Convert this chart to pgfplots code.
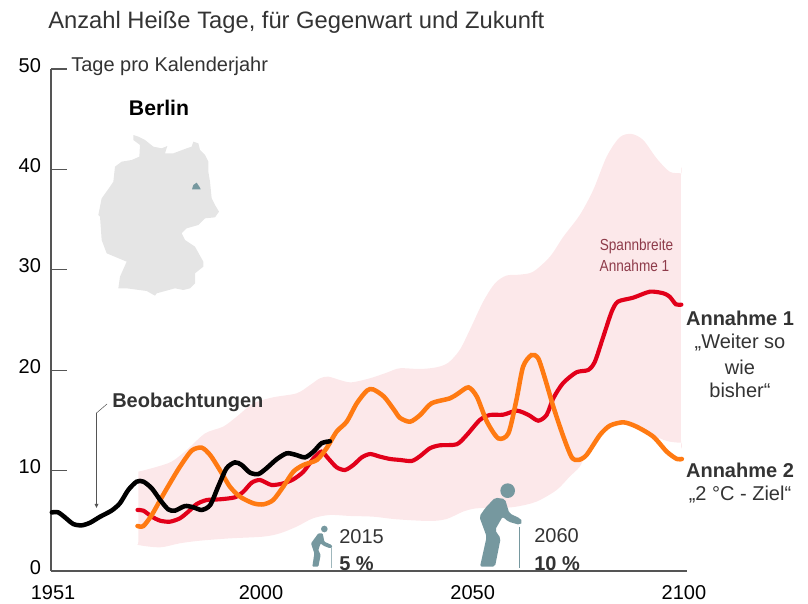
\documentclass[border=0pt]{standalone}
\usepackage{pgfplots}
\usepackage{pgfplotstable}
\usepackage{fontspec}
\setmainfont{Liberation Sans}
\pgfplotsset{compat=1.18}
\definecolor{axgray}{HTML}{555555}
\definecolor{txt}{HTML}{333333}
\definecolor{band}{HTML}{FCE8EA}
\definecolor{redl}{HTML}{E2001A}
\definecolor{orl}{HTML}{FF7A12}
\definecolor{teal1}{HTML}{76989F}
\definecolor{mapg}{HTML}{E5E5E5}
\definecolor{spann}{HTML}{8E3B4A}
\newcommand{\fs}[1]{\fontsize{#1}{#1}\selectfont}
\pgfplotstableread{
year v
1950.2 5.84
1951.7 5.84
1953.3 5.35
1955.3 4.68
1957.3 4.55
1959.3 4.81
1961.7 5.41
1964.4 6.01
1966.4 6.74
1968.4 8.07
1970.4 8.90
1972.0 8.90
1974.0 8.23
1976.0 7.07
1977.9 6.14
1979.5 6.01
1981.9 6.47
1983.9 6.34
1985.9 6.08
1987.9 6.57
1989.8 8.40
1991.8 10.23
1993.8 10.82
1995.4 10.56
1997.4 9.79
1999.4 9.66
2001.3 10.23
2003.7 11.12
2006.1 11.72
2008.1 11.59
2010.5 11.32
2012.5 11.89
2014.4 12.72
2016.4 12.92
}\obs
\pgfplotstableread{
year v
1970.6 6.08
1972.0 6.01
1974.0 5.41
1976.0 5.01
1978.3 4.91
1980.7 5.25
1982.7 5.91
1984.7 6.67
1987.1 7.07
1990.2 7.14
1993.8 7.34
1995.8 7.90
1997.8 8.80
1999.8 9.06
2002.5 8.57
2005.3 8.73
2007.7 9.13
2010.1 9.89
2012.5 11.22
2014.4 11.89
2016.0 11.22
2018.0 10.33
2020.0 10.06
2022.0 10.56
2024.0 11.32
2026.0 11.65
2028.3 11.39
2030.7 11.16
2033.1 11.06
2035.9 10.96
2037.9 11.45
2040.2 12.22
2042.6 12.52
2046.6 12.62
2049.0 13.55
2052.1 15.04
2054.5 15.54
2057.7 15.57
2060.9 15.97
2063.7 15.54
2066.0 14.97
2068.0 15.54
2069.6 17.2
2071.9 18.7
2075.1 19.79
2077.9 20.02
2079.5 20.85
2081.5 23.34
2083.5 25.83
2085.0 26.83
2088.6 27.22
2092.6 27.82
2095.8 27.66
2097.3 27.32
2098.8 26.56
2100.1 26.53
}\annone
\pgfplotstableread{
year v
1970.6 4.48
1972.0 4.48
1974.0 5.58
1976.0 7.07
1978.3 8.73
1980.7 10.39
1983.5 11.99
1985.9 12.28
1987.9 11.55
1990.2 10.06
1992.6 8.40
1995.0 7.40
1998.2 6.74
2000.6 6.64
2002.9 7.07
2005.3 8.40
2007.7 9.89
2010.1 10.56
2013.3 11.06
2015.6 12.22
2018.0 13.88
2020.4 14.87
2022.8 16.70
2025.2 17.96
2026.7 18.09
2029.3 17.36
2031.7 16.04
2033.1 15.25
2035.5 14.87
2037.9 15.54
2040.6 16.7
2045.0 17.2
2047.0 17.7
2049.4 18.29
2051.4 17.36
2053.8 14.87
2056.5 13.21
2058.9 13.71
2060.8 17.0
2062.4 20.35
2064.4 21.51
2066.0 21.18
2067.6 19.2
2069.6 16.37
2072.0 13.38
2074.0 11.32
2075.6 11.06
2077.5 11.55
2080.7 13.55
2083.1 14.48
2086.3 14.81
2089.4 14.38
2093.4 13.38
2096.6 11.89
2099.0 11.16
2100.2 11.16
}\anntwo
% range band: upper edge left to right, then lower edge right to left
\pgfplotstableread{
year v
1970.8 9.89
1974.8 10.33
1978.7 10.89
1982.3 12.05
1986.7 13.71
1991.0 14.38
1994.2 15.37
1998.2 16.70
2002.9 17.30
2008.5 17.70
2011.7 18.53
2014.0 19.19
2016.0 19.36
2018.8 19.02
2021.5 18.79
2025.9 19.19
2029.9 19.75
2033.0 20.19
2037.8 20.12
2041.8 20.29
2044.6 20.75
2047.3 22.01
2049.7 24.0
2052.9 26.83
2055.7 28.65
2058.4 29.42
2061.6 29.52
2064.8 29.81
2068.8 31.31
2072.0 33.30
2075.9 35.46
2079.1 37.95
2082.3 41.27
2085.4 43.19
2088.2 43.53
2091.0 42.93
2094.2 41.10
2097.3 39.77
2100.0 39.60
2100.0 39.30
2100.0 26.0
2100.0 13.10
2100.0 12.78
2096.6 12.95
2093.4 13.55
2089.4 14.6
2086.3 15.0
2083.1 14.65
2080.7 13.7
2077.5 11.7
2075.9 10.39
2073.5 9.40
2070.4 8.07
2065.6 6.91
2060.8 6.41
2056.1 6.24
2051.3 6.24
2048.1 5.91
2044.2 5.18
2040.2 4.98
2032.3 5.15
2026.7 5.41
2021.2 5.48
2016.4 5.58
2012.4 5.25
2008.5 4.42
2004.5 3.75
2000.5 3.42
1992.6 3.25
1985.5 3.02
1980.7 2.76
1976.0 2.36
1970.8 2.59
1970.8 2.90
1970.8 6.0
1970.8 9.55
1970.8 9.89
}\bandtab
\begin{document}
\begin{tikzpicture}
\useasboundingbox (0,0) rectangle (606pt,453pt);
\begin{axis}[
  at={(38.25pt,24.75pt)}, anchor=south west,
  scale only axis, width=476.9pt, height=376.5pt,
  xmin=1950, xmax=2101.4, ymin=0, ymax=50,
  clip=false,
  axis x line*=bottom, axis y line*=left,
  axis line style={-, color=axgray, line width=0.9pt},
  xtick={1950.5,2000,2050.4,2100.7}, xticklabels={1951,2000,2050,2100},
  x tick style={draw=none},
  ytick={0,10,20,30,40,50},
  y tick style={color=axgray, line width=0.8pt},
  tick align=inside, major tick length=12pt,
  ticklabel style={font=\fs{15}, color=black},
  /pgf/number format/assume math mode=true,
  yticklabel style={yshift=2.9pt, xshift=-4pt},
  xticklabel style={yshift=-7.5pt},
]
\addplot[fill=band, draw=none, smooth] table[x=year,y=v] {\bandtab};
\addplot[redl, line width=3.1pt, smooth, tension=0.45, line cap=round] table[x=year,y=v] {\annone};
\addplot[orl, line width=3.4pt, smooth, tension=0.45, line cap=round] table[x=year,y=v] {\anntwo};
\addplot[black, line width=3.4pt, smooth, tension=0.45, line cap=round] table[x=year,y=v] {\obs};
\end{axis}
\begin{scope}[shift={(0,453pt)}, x=0.75pt, y=-0.75pt]
  % title and labels
  \node[anchor=base west, inner sep=0, text=txt, font=\fs{17.8}] at (48,29) {Anzahl Heiße Tage, für Gegenwart und Zukunft};
  \node[anchor=west, inner sep=0, text=txt, font=\fs{15}] at (71,66) {Tage pro Kalenderjahr};
  \node[anchor=center, inner sep=0, text=black, font=\fs{15.9}\bfseries] at (159,108) {Berlin};
  % map
  \begin{scope}[shift={(90,130)}, x=0.25pt, y=-0.25pt]
  \fill[mapg] (130,15)--(145,20)--(165,30)--(190,50)--(215,55)--(232,48)--(225,70)--(250,70)--(290,55)--(305,50)--(310,35)--(325,40)--(330,60)--(345,75)--(355,95)--(355,125)--(360,155)--(365,205)--(375,225)--(387,245)--(375,262)--(345,265)--(325,285)--(290,295)--(275,310)--(285,330)--(315,350)--(340,395)--(340,410)--(315,430)--(315,460)--(300,475)--(280,480)--(255,475)--(200,490)--(195,497)--(170,483)--(110,475)--(85,475)--(90,440)--(110,395)--(50,370)--(35,330)--(30,260)--(25,255)--(35,205)--(60,170)--(70,155)--(75,110)--(95,95)--(125,90)--(148,80)--(150,45)--(130,30)--cycle;
  \fill[teal1] (306,178)--(310,165)--(320,158)--(328,170)--(332,178)--cycle;
  \end{scope}
  % Beobachtungen
  \node[anchor=west, inner sep=0, text=txt, font=\fs{15}\bfseries] at (112,402) {Beobachtungen};
  \draw[axgray, line width=0.4pt] (107,404)--(96.5,413)--(96.5,505);
  \fill[axgray] (94.5,504)--(98.5,504)--(96.5,508)--cycle;
  % Spannbreite
  \node[anchor=center, inner sep=0, text=spann, font=\fs{12}, xscale=0.85] at (636.5,246.5) {Spannbreite};
  \node[anchor=center, inner sep=0, text=spann, font=\fs{12}, xscale=0.85] at (634.5,266) {Annahme 1};
  % Scenario labels
  \node[anchor=center, inner sep=0, text=txt, font=\fs{15}\bfseries] at (740,318) {Annahme 1};
  \node[anchor=center, inner sep=0, text=txt, font=\fs{15}] at (740,343) {„Weiter so};
  \node[anchor=center, inner sep=0, text=txt, font=\fs{15}] at (740,367) {wie};
  \node[anchor=center, inner sep=0, text=txt, font=\fs{15}] at (740,390) {bisher“};
  \node[anchor=center, inner sep=0, text=txt, font=\fs{15}\bfseries] at (740,470) {Annahme 2};
  \node[anchor=center, inner sep=0, text=txt, font=\fs{15}] at (740,495) {„2 °C - Ziel“};
  % icon 2015
  \begin{scope}[shift={(300,515)}, x=0.25pt, y=-0.25pt]
  \fill[teal1] (73,42) circle (2.5pt);
  \fill[teal1, rounded corners=0.7pt] (55,55)--(68,55)--(73,80)--(95,90)--(97,97)--(90,100)--(70,92)--(62,85)--(55,105)--(62,120)--(55,155)--(37,155)--(43,115)--(33,85)--cycle;
  \draw[teal1!70, line width=0.7pt] (93,100)--(93,158);
  \end{scope}
  \node[anchor=west, inner sep=0, text=txt, font=\fs{15}] at (339,537) {2015};
  \node[anchor=base west, inner sep=0, text=txt, font=\fs{15}\bfseries] at (339,570.5) {5 \%};
  % icon 2060
  \begin{scope}[shift={(470,475)}, x=0.25pt, y=-0.25pt]
  \fill[teal1] (113,47) circle (5.5pt);
  \fill[teal1, rounded corners=1.5pt] (75,68)--(105,72)--(118,115)--(150,130)--(158,140)--(150,150)--(115,140)--(98,125)--(75,165)--(92,190)--(75,275)--(30,275)--(50,185)--(28,125)--(45,100)--cycle;
  \draw[teal1, line width=0.9pt] (148,155)--(148,280);
  \end{scope}
  \node[anchor=west, inner sep=0, text=txt, font=\fs{15}] at (534,536) {2060};
  \node[anchor=base west, inner sep=0, text=txt, font=\fs{15}\bfseries] at (534,570.5) {10 \%};
\end{scope}
\end{tikzpicture}
\end{document}
